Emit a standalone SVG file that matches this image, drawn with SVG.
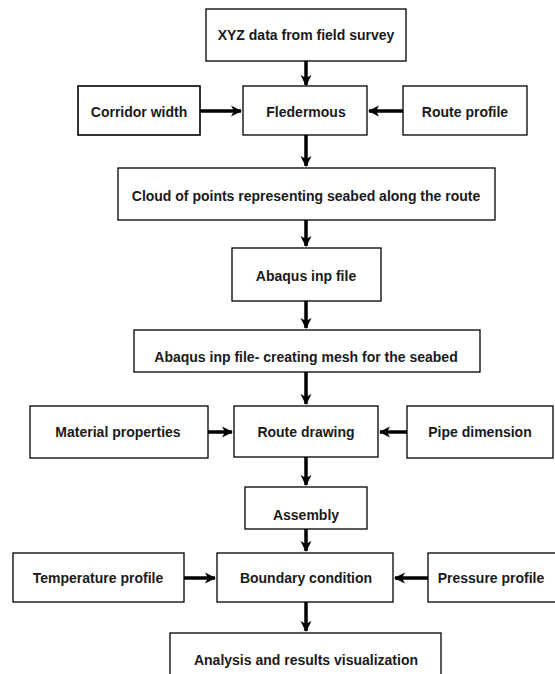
<svg xmlns="http://www.w3.org/2000/svg" width="555" height="674" viewBox="0 0 555 674">
<style>
.box{fill:#fff;stroke:#000;stroke-width:1.3}
.lbl{font-family:"Liberation Sans",Arial,sans-serif;font-size:14px;font-weight:bold;fill:#1a1a1a;text-anchor:middle;dominant-baseline:central}
.arr{stroke:#000;stroke-width:3.5;fill:none;marker-end:url(#ah)}
</style>
<defs>
<marker id="ah" markerUnits="userSpaceOnUse" markerWidth="12" markerHeight="12" refX="10" refY="6" orient="auto">
<path d="M0,0.5 L11,6 L0,11.5 L3,6 Z" fill="#000"/>
</marker>
</defs>
<rect width="555" height="674" fill="#fff"/>
<g id="connectors">
<line class="arr" x1="306" y1="61" x2="306" y2="85"/>
<line class="arr" x1="200" y1="111" x2="241" y2="111"/>
<line class="arr" x1="403" y1="111" x2="369" y2="111"/>
<line class="arr" x1="306" y1="135" x2="306" y2="166"/>
<line class="arr" x1="306" y1="220" x2="306" y2="246"/>
<line class="arr" x1="306" y1="301" x2="306" y2="328"/>
<line class="arr" x1="306" y1="372" x2="306" y2="404"/>
<line class="arr" x1="208" y1="432" x2="232" y2="432"/>
<line class="arr" x1="407" y1="432" x2="380" y2="432"/>
<line class="arr" x1="306" y1="457" x2="306" y2="485"/>
<line class="arr" x1="306" y1="529" x2="306" y2="551"/>
<line class="arr" x1="184" y1="578" x2="215" y2="578"/>
<line class="arr" x1="428" y1="578" x2="395" y2="578"/>
<line class="arr" x1="306" y1="602" x2="306" y2="631"/>
</g>
<g id="xyz"><rect class="box" x="206" y="9" width="200" height="52"/><text class="lbl" x="306" y="35">XYZ data from field survey</text></g>
<g id="corridor"><rect class="box" x="78" y="86" width="122" height="49" style="stroke-width:1.6"/><text class="lbl" x="139" y="112">Corridor width</text></g>
<g id="fledermous"><rect class="box" x="243" y="86" width="124" height="49"/><text class="lbl" x="306" y="112">Fledermous</text></g>
<g id="routeprofile"><rect class="box" x="403" y="86" width="124" height="49"/><text class="lbl" x="465" y="112">Route profile</text></g>
<g id="cloud"><rect class="box" x="118" y="168" width="377" height="52"/><text class="lbl" x="306" y="196">Cloud of points representing seabed along the route</text></g>
<g id="abaqus"><rect class="box" x="232" y="248" width="149" height="53"/><text class="lbl" x="306" y="276">Abaqus inp file</text></g>
<g id="mesh"><rect class="box" x="134" y="330" width="346" height="42"/><text class="lbl" x="306" y="357">Abaqus inp file- creating mesh for the seabed</text></g>
<g id="material"><rect class="box" x="30" y="406" width="178" height="52"/><text class="lbl" x="118" y="432">Material properties</text></g>
<g id="routedrawing"><rect class="box" x="234" y="406" width="144" height="51"/><text class="lbl" x="306" y="432">Route drawing</text></g>
<g id="pipe"><rect class="box" x="407" y="406" width="146" height="52"/><text class="lbl" x="480" y="432">Pipe dimension</text></g>
<g id="assembly"><rect class="box" x="245" y="487" width="122" height="42"/><text class="lbl" x="306" y="515">Assembly</text></g>
<g id="temperature"><rect class="box" x="13" y="553" width="171" height="49"/><text class="lbl" x="98" y="578">Temperature profile</text></g>
<g id="boundary"><rect class="box" x="217" y="553" width="176" height="49"/><text class="lbl" x="306" y="578">Boundary condition</text></g>
<g id="pressure"><rect class="box" x="428" y="553" width="130" height="49"/><text class="lbl" x="491" y="578">Pressure profile</text></g>
<g id="analysis"><rect class="box" x="170" y="633" width="271" height="50"/><text class="lbl" x="306" y="660">Analysis and results visualization</text></g>
</svg>
